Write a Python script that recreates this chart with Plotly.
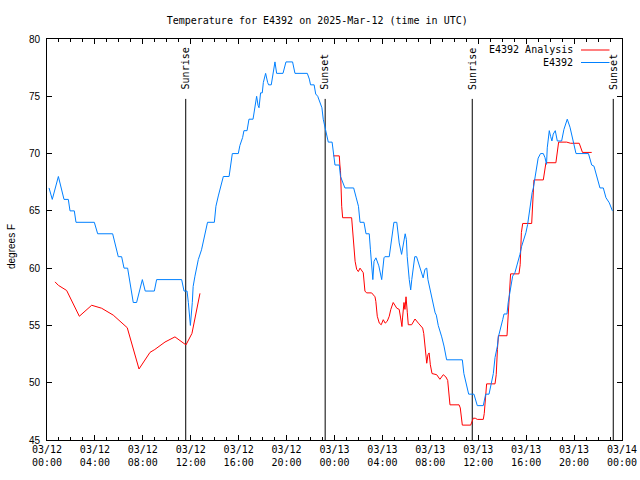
import pandas as pd
import plotly.graph_objects as go

BASE = pd.Timestamp("2025-03-12 00:00")

# E4392 observations: hours after 03/12 00:00 UTC, temperature F
obs_hours = [0.17, 0.44, 0.95, 1.42, 1.78, 1.92, 2.28, 2.42, 3.95, 4.23, 5.48, 5.95, 6.23, 6.43, 6.73,
             6.87, 7.2, 7.48, 7.96, 8.2, 8.96, 9.15, 11.24, 11.44, 11.69, 11.8, 11.97, 12.13, 12.2, 12.35,
             12.63, 12.9, 13.2, 13.4, 13.97, 14.1, 14.3, 14.58, 14.72, 15.2, 15.33, 15.47, 15.97, 16.1, 16.33,
             16.44, 16.7, 16.86, 17.2, 17.35, 17.5, 17.62, 17.7, 17.83, 17.97, 18.06, 18.25, 18.42, 18.5, 18.72,
             18.9, 19.03, 19.17, 19.7, 19.95, 20.5, 20.7, 21.73, 21.9, 22.0, 22.3, 22.43, 22.6, 22.8, 22.95,
             23.06, 23.2, 23.3, 23.48, 23.8, 23.9, 24.04, 24.4, 24.5, 24.87, 25.6, 25.8, 26.0, 26.13, 26.46,
             26.63, 26.9, 27.0, 27.1, 27.2, 27.3, 27.46, 27.7, 27.94, 28.13, 28.2, 28.57, 28.77, 28.96, 29.2,
             29.27, 29.4, 29.6, 29.75, 29.9, 30.0, 30.07, 30.24, 30.36, 30.45, 30.6, 30.7, 30.85, 31.08, 31.25,
             31.4, 31.55, 31.7, 31.8, 31.97, 32.2, 32.4, 32.5, 32.66, 32.95, 33.14, 33.36, 34.67, 34.8, 35.03,
             35.2, 35.64, 35.92, 36.42, 36.62, 36.9, 37.1, 37.26, 37.4, 37.6, 37.68, 37.8, 38.04, 38.15, 38.4,
             38.5, 38.65, 38.72, 38.87, 39.06, 39.26, 39.48, 39.62, 39.76, 39.98, 40.12, 40.26, 40.37, 40.5, 40.6,
             40.73, 40.88, 41.0, 41.2, 41.43, 41.57, 41.7, 41.76, 41.93, 42.04, 42.15, 42.26, 42.43, 42.6, 42.96,
             43.15, 43.43, 43.66, 43.88, 44.16, 45.2, 45.33, 45.47, 45.66, 45.83, 46.0, 46.16, 46.44, 46.66, 46.94,
             47.2]
obs_temps = [67, 66, 68, 66, 66, 65, 65, 64, 64, 63, 63, 61, 61, 60, 60,
             59, 57, 57, 59, 58, 58, 59, 59, 58, 58, 57, 55, 57, 58.4, 59.3,
             60.75, 61.6, 63, 64, 64, 65.4, 66.3, 67.5, 68, 68, 69, 70, 70, 70.7, 71.4,
             72, 72, 73, 73, 73.9, 75, 74.2, 74, 75.3, 75.3, 76.2, 77, 76.2, 76, 76,
             77, 78, 77, 77, 78, 78, 77, 77, 76.5, 76, 76, 75.2, 75, 74.3, 74,
             73, 72.3, 71.9, 71, 71, 70, 69, 69, 68, 67, 67, 66.2, 65.4, 64, 64,
             63, 63, 61.6, 60.2, 59, 60.6, 60.9, 60.2, 59, 60.9, 61, 61, 62.8, 64, 64,
             63.1, 62.2, 61.2, 62.2, 63, 62.5, 61, 59, 58.1, 59, 60.2, 61, 61, 60.2, 59.6,
             59.15, 59.9, 60, 59, 58.1, 57, 56.1, 55.9, 55, 54, 53.2, 52, 52, 50.8, 49.7,
             49, 49, 48, 48, 49, 49, 50, 50.8, 52.2, 53.2, 54, 54.6, 55.5, 56, 56,
             57, 58, 58.7, 59.3, 59.6, 60.3, 61.2, 61.9, 62.35, 63.1, 63.8, 64.8, 65.9, 66.6, 67,
             67.75, 68.8, 69.6, 70, 70, 69.65, 69.06, 70.5, 72, 71.5, 71.1, 71.7, 72, 71.1, 71.1,
             72.1, 73, 72.3, 71.4, 70, 70, 69.5, 69, 68.9, 68.3, 67.6, 67, 67, 66.15, 65.7,
             65]

# E4392 Analysis (None = gap in the analysis)
ana_hours = [0.67, 0.95, 1.64, 2.7, 3.73, 4.56, 5.53, 6.09, 6.7, 7.68, 8.6, 9.0, 9.85, 10.68, 11.6, 12.1, 12.77,
             18.0,
             23.9, 24.4, 24.45, 24.5, 24.6, 24.68, 25.43, 25.52, 25.63, 25.72, 25.85, 25.99, 26.13, 26.4, 26.54,
             26.68, 27.1, 27.38, 27.45, 27.57, 27.74, 27.9, 28.07, 28.23, 28.4, 28.57, 28.7, 28.9, 29.2, 29.4,
             29.52, 29.63, 29.68, 29.8, 29.88, 29.97, 30.08, 30.16, 30.44, 30.72, 31.0, 31.36, 31.45, 31.55, 31.7,
             31.8, 31.9, 32.0, 32.14, 32.53, 32.8, 33.08, 33.3, 33.45, 33.64, 34.4, 34.5, 34.67, 35.37, 35.58,
             35.75, 35.92, 36.42, 36.5, 36.62, 36.7, 37.4, 37.5, 37.6, 37.68, 38.4, 38.5, 38.6, 38.7, 39.4, 39.5,
             39.6, 39.71, 40.46, 40.54, 40.65, 41.43, 41.57, 41.65, 42.48, 42.6, 42.71, 43.38, 43.71, 44.43, 44.55,
             44.7, 45.47]
ana_temps = [58.8, 58.5, 58.05, 55.8, 56.76, 56.5, 55.9, 55.4, 54.8, 51.2, 52.65, 52.9, 53.55, 54.0, 53.3, 54.3, 57.8,
             None,
             69.8, 69.8, 69, 68.5, 65.4, 64.4, 64.4, 62.9, 61.6, 60.6, 59.9, 59.7, 60.0, 59.6, 58,
             57.84, 57.84, 57.5, 57.1, 55.8, 55.2, 55.06, 55.5, 55.2, 55.36, 55.8, 56.4, 57, 56.5, 56.4,
             55.65, 54.9, 55.65, 57, 56.4, 57.5, 56.1, 55.06, 55.06, 55.56, 55.2, 54.77, 54.3, 53.17, 51.7,
             52.44, 52.6, 51.57, 50.8, 50.7, 50.3, 50.7, 50.5, 50.2, 48.07, 48.07, 47.8, 46.3, 46.3, 46.9,
             46.9, 46.8, 46.8, 47.3, 48.5, 49.9, 49.9, 50.7, 52.9, 54.1, 54.1, 56.1, 58.6, 59.5, 59.5, 60.3,
             63.1, 63.9, 63.9, 65.7, 67.7, 67.7, 68.6, 69.2, 69.2, 70.2, 71.0, 71.0, 70.9, 70.9, 70.5,
             70.1, 70.1]

sun_hours = [11.58, 23.22, 35.5, 47.27]
sun_labels = ["Sunrise", "Sunset", "Sunrise", "Sunset"]

tick_hours = [0, 4, 8, 12, 16, 20, 24, 28, 32, 36, 40, 44, 48]
tick_labels = ["03/12<br>00:00", "03/12<br>04:00", "03/12<br>08:00", "03/12<br>12:00", "03/12<br>16:00",
               "03/12<br>20:00", "03/13<br>00:00", "03/13<br>04:00", "03/13<br>08:00", "03/13<br>12:00",
               "03/13<br>16:00", "03/13<br>20:00", "03/14<br>00:00"]

series_names = ["E4392 Analysis", "E4392"]
series_colors = ["#ff0000", "#0080ff"]


def to_time(hours):
    return [None if h is None else BASE + pd.Timedelta(hours=h) for h in hours]


MONO = "DejaVu Sans Mono, monospace"
SANS = "Liberation Sans, Arial, sans-serif"

fig = go.Figure()

# Sunrise / sunset lines
for h, lab in zip(sun_hours, sun_labels):
    t = to_time([h])[0]
    fig.add_trace(go.Scatter(x=[t, t], y=[74.77, 45], mode="lines",
                             line=dict(color="black", width=1), showlegend=False, hoverinfo="skip"))
    fig.add_annotation(x=t, y=75.4, xref="x", yref="y", text=lab, textangle=-90,
                       showarrow=False, xanchor="center", yanchor="bottom",
                       font=dict(family=MONO, size=10, color="black"))

fig.add_trace(go.Scatter(x=to_time(ana_hours), y=ana_temps, mode="lines", name=series_names[0],
                         line=dict(color=series_colors[0], width=1), connectgaps=False, showlegend=False))
fig.add_trace(go.Scatter(x=to_time(obs_hours), y=obs_temps, mode="lines", name=series_names[1],
                         line=dict(color=series_colors[1], width=1), showlegend=False))

# gnuplot-style legend: text right-justified, sample line to the right
L, R, T, B = 47, 18, 39, 40
W, H = 640 - L - R, 480 - T - B


def px(xp):
    return (xp - L) / W


def py(yp):
    return (480 - B - yp) / H


for i, (nm, col) in enumerate(zip(series_names, series_colors)):
    yy = 50 + 12.5 * i
    fig.add_annotation(x=px(575), y=py(yy), xref="paper", yref="paper", text=nm, showarrow=False,
                       xanchor="right", yanchor="middle", font=dict(family=MONO, size=10, color="black"))
    fig.add_shape(type="line", xref="paper", yref="paper", x0=px(581), x1=px(609.5), y0=py(yy), y1=py(yy),
                  line=dict(color=col, width=1))

fig.add_annotation(x=px(11), y=py(247), xref="paper", yref="paper", text="degrees F", textangle=-90,
                   showarrow=False, xanchor="center", yanchor="middle",
                   font=dict(family=SANS, size=10, color="black"))

fig.update_layout(
    width=640, height=480,
    margin=dict(l=L, r=R, t=T, b=B, autoexpand=False),
    paper_bgcolor="white", plot_bgcolor="white",
    title=dict(text="Temperature for E4392 on 2025-Mar-12 (time in UTC)", x=px(332), xanchor="center",
               y=1 - 20 / 480, yanchor="middle", font=dict(family=MONO, size=10, color="black")),
    showlegend=False,
    hovermode=False,
)

fig.update_xaxes(
    range=[BASE, BASE + pd.Timedelta(hours=48)],
    tickvals=to_time(tick_hours), ticktext=tick_labels,
    ticks="inside", ticklen=5, tickcolor="black", tickwidth=1,
    minor=dict(dtick=3600000, ticks="inside", ticklen=3, tickcolor="black", tickwidth=1, showgrid=False),
    showline=True, linecolor="black", linewidth=1, mirror="ticks",
    showgrid=False, zeroline=False, automargin=False, ticklabelstandoff=0,
    tickfont=dict(family=MONO, size=10, color="black"),
)
fig.update_yaxes(
    range=[45, 80], dtick=5, tick0=45,
    ticks="inside", ticklen=5, tickcolor="black", tickwidth=1,
    showline=True, linecolor="black", linewidth=1, mirror="ticks",
    showgrid=False, zeroline=False, ticklabelstandoff=4, automargin=False,
    tickfont=dict(family=SANS, size=10, color="black"),
)

fig.write_html("out.html", config={"displayModeBar": False, "staticPlot": True},
               post_script="document.body.style.margin='0px';")
